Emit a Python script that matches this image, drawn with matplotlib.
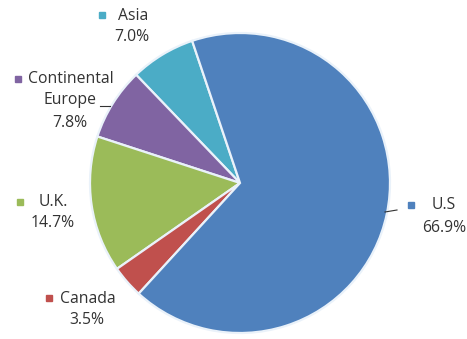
import matplotlib
matplotlib.use("Agg")
import matplotlib.pyplot as plt

# Data (counter-clockwise order starting at the top-left boundary)
regions = ["Asia", "Continental\nEurope", "U.K.", "Canada", "U.S"]
shares = [7.0, 7.8, 14.7, 3.5, 66.9]
pct_labels = ["7.0%", "7.8%", "14.7%", "3.5%", "66.9%"]
colors = ["#4BACC6", "#8064A2", "#9BBB59", "#C0504D", "#4F81BD"]

W, H = 467, 339
fig = plt.figure(figsize=(W / 100, H / 100), dpi=100)
ax = fig.add_axes([0, 0, 1, 1])

cx, cy, r = 240, H - 183, 150
ax.pie(shares, colors=colors, startangle=108.6, counterclock=True,
       center=(cx, cy), radius=r, frame=True,
       wedgeprops=dict(edgecolor="#eaf2fa", linewidth=1.6))
ax.set_xlim(0, W)
ax.set_ylim(0, H)
ax.set_aspect("equal")
ax.axis("off")

txt_color = "#333333"
fs = 11.3
font = "Open Sans"

# label layout: (marker x, marker y, name x, name y, pct x, pct y) in pixel coords (y down)
layout = [
    (102, 15, 133, 16, 132, 37),
    (18, 79, 71, 79, 70, 123),
    (20, 202, 53, 202, 53, 223),
    (49, 298, 88, 299, 87, 320),
    (411, 205, 444, 205, 444, 228),
]

for name, pct, col, (mx, my, nx, ny, px, py) in zip(regions, pct_labels, colors, layout):
    ax.plot([mx], [H - my], marker="s", markersize=4.5, color=col, linestyle="none")
    if "\n" in name:
        first, second = name.split("\n")
        ax.text(nx, H - ny, first, ha="center", va="center", fontsize=fs,
                color=txt_color, family=font)
        ax.text(px, H - (ny + 21), second, ha="center", va="center", fontsize=fs,
                color=txt_color, family=font)
    else:
        ax.text(nx, H - ny, name, ha="center", va="center", fontsize=fs,
                color=txt_color, family=font)
    ax.text(px, H - py, pct, ha="center", va="center", fontsize=fs,
            color=txt_color, family=font)

# leader lines
ax.plot([100, 110], [H - 106, H - 106], color="#333333", linewidth=0.8)
ax.plot([385, 397], [H - 212, H - 210], color="#333333", linewidth=0.8)

fig.savefig("out.png", dpi=100, facecolor="white")
